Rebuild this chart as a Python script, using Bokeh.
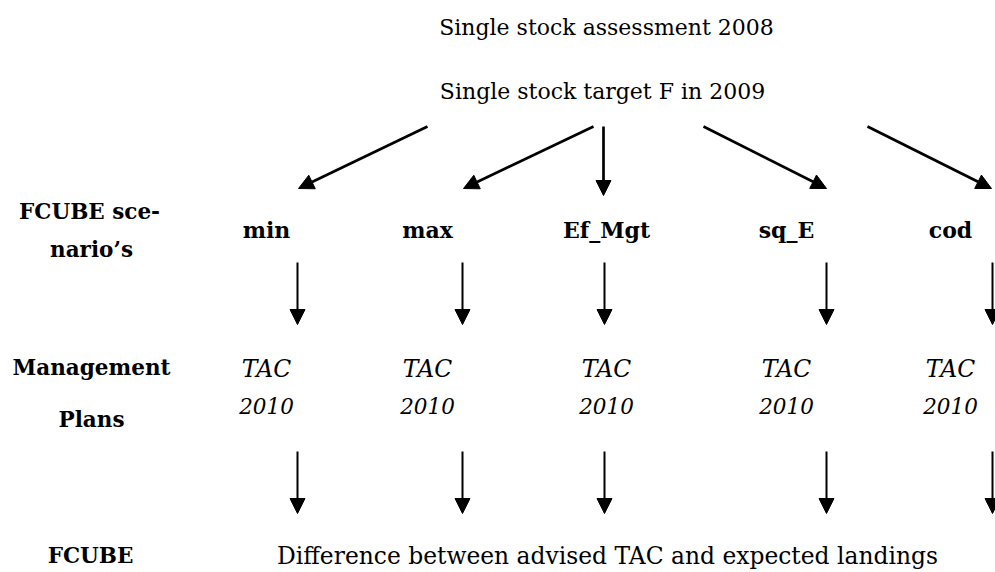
from bokeh.plotting import figure
from bokeh.models import ColumnDataSource, Range1d, Arrow, NormalHead
from bokeh.core.properties import value
from bokeh.embed import file_html
from bokeh.resources import INLINE

# ---- diagram content -------------------------------------------------------
title_texts = ["Single stock assessment 2008", "Single stock target F in 2009"]
title_x = [606, 602]
title_y = [27, 91]

row_headers = ["FCUBE sce-", "nario\u2019s", "Management", "Plans", "FCUBE"]
row_header_x = [89, 91, 91, 91, 90]
row_header_y = [211, 249, 367, 419, 555]

scenarios = ["min", "max", "Ef_Mgt", "sq_E", "cod"]
column_x = [266, 427, 606, 786, 950]
scenario_y = 229

plan_line1 = ["TAC"] * 5
plan_line2 = ["2010"] * 5
plan_y1 = 368
plan_y2 = 405

bottom_text = ["Difference between advised TAC and expected landings"]
bottom_x = [607]
bottom_y = [555]

# arrows from the target-F node to each scenario
fan_x0 = [427, 593, 603, 703, 867]
fan_y0 = [126, 126, 126, 126, 126]
fan_x1 = [298, 463, 603, 826, 991]
fan_y1 = [188, 188, 195, 188, 188]

# vertical arrows below each scenario and each plan
down_x = [297, 462, 604, 826, 992]
down2_y0, down2_y1 = 262, 324
down3_y0, down3_y1 = 451, 513

# ---- figure -----------------------------------------------------------------
W, H = 995, 572
p = figure(width=W, height=H, output_backend="svg", toolbar_location=None,
           x_range=Range1d(0, W), y_range=Range1d(H, 0),
           x_axis_location=None, y_axis_location=None, min_border=0)
p.outline_line_color = None
p.grid.visible = False
p.background_fill_color = "white"

FONT = value("DejaVu Serif")

def add_text(xs, ys, texts, size, style="normal"):
    src = ColumnDataSource(dict(x=xs, y=ys, text=texts))
    p.text(x="x", y="y", text="text", source=src, text_align="center",
           text_baseline="alphabetic", text_font=FONT, text_font_size=size,
           text_font_style=style, text_color="black")

add_text(title_x, title_y, title_texts, "22px")
add_text(row_header_x, row_header_y, row_headers, "21.5px", "bold")
add_text(column_x, [scenario_y] * 5, scenarios, "22px", "bold")
add_text(column_x, [plan_y1] * 5, plan_line1, "23.5px", "italic")
add_text(column_x, [plan_y2] * 5, plan_line2, "21.5px", "italic")
add_text(bottom_x, bottom_y, bottom_text, "23.4px")

fan_src = ColumnDataSource(dict(x0=fan_x0, y0=fan_y0, x1=fan_x1, y1=fan_y1))
p.add_layout(Arrow(end=NormalHead(size=15, fill_color="black", line_color="black"),
                   source=fan_src, x_start="x0", y_start="y0", x_end="x1", y_end="y1",
                   line_width=2.7, line_color="black"))

down_src = ColumnDataSource(dict(
    x0=down_x + down_x,
    y0=[down2_y0] * 5 + [down3_y0] * 5,
    x1=down_x + down_x,
    y1=[down2_y1] * 5 + [down3_y1] * 5))
p.add_layout(Arrow(end=NormalHead(size=15, fill_color="black", line_color="black"),
                   source=down_src, x_start="x0", y_start="y0", x_end="x1", y_end="y1",
                   line_width=2, line_color="black"))

open("out.html", "w").write(file_html(p, INLINE))
